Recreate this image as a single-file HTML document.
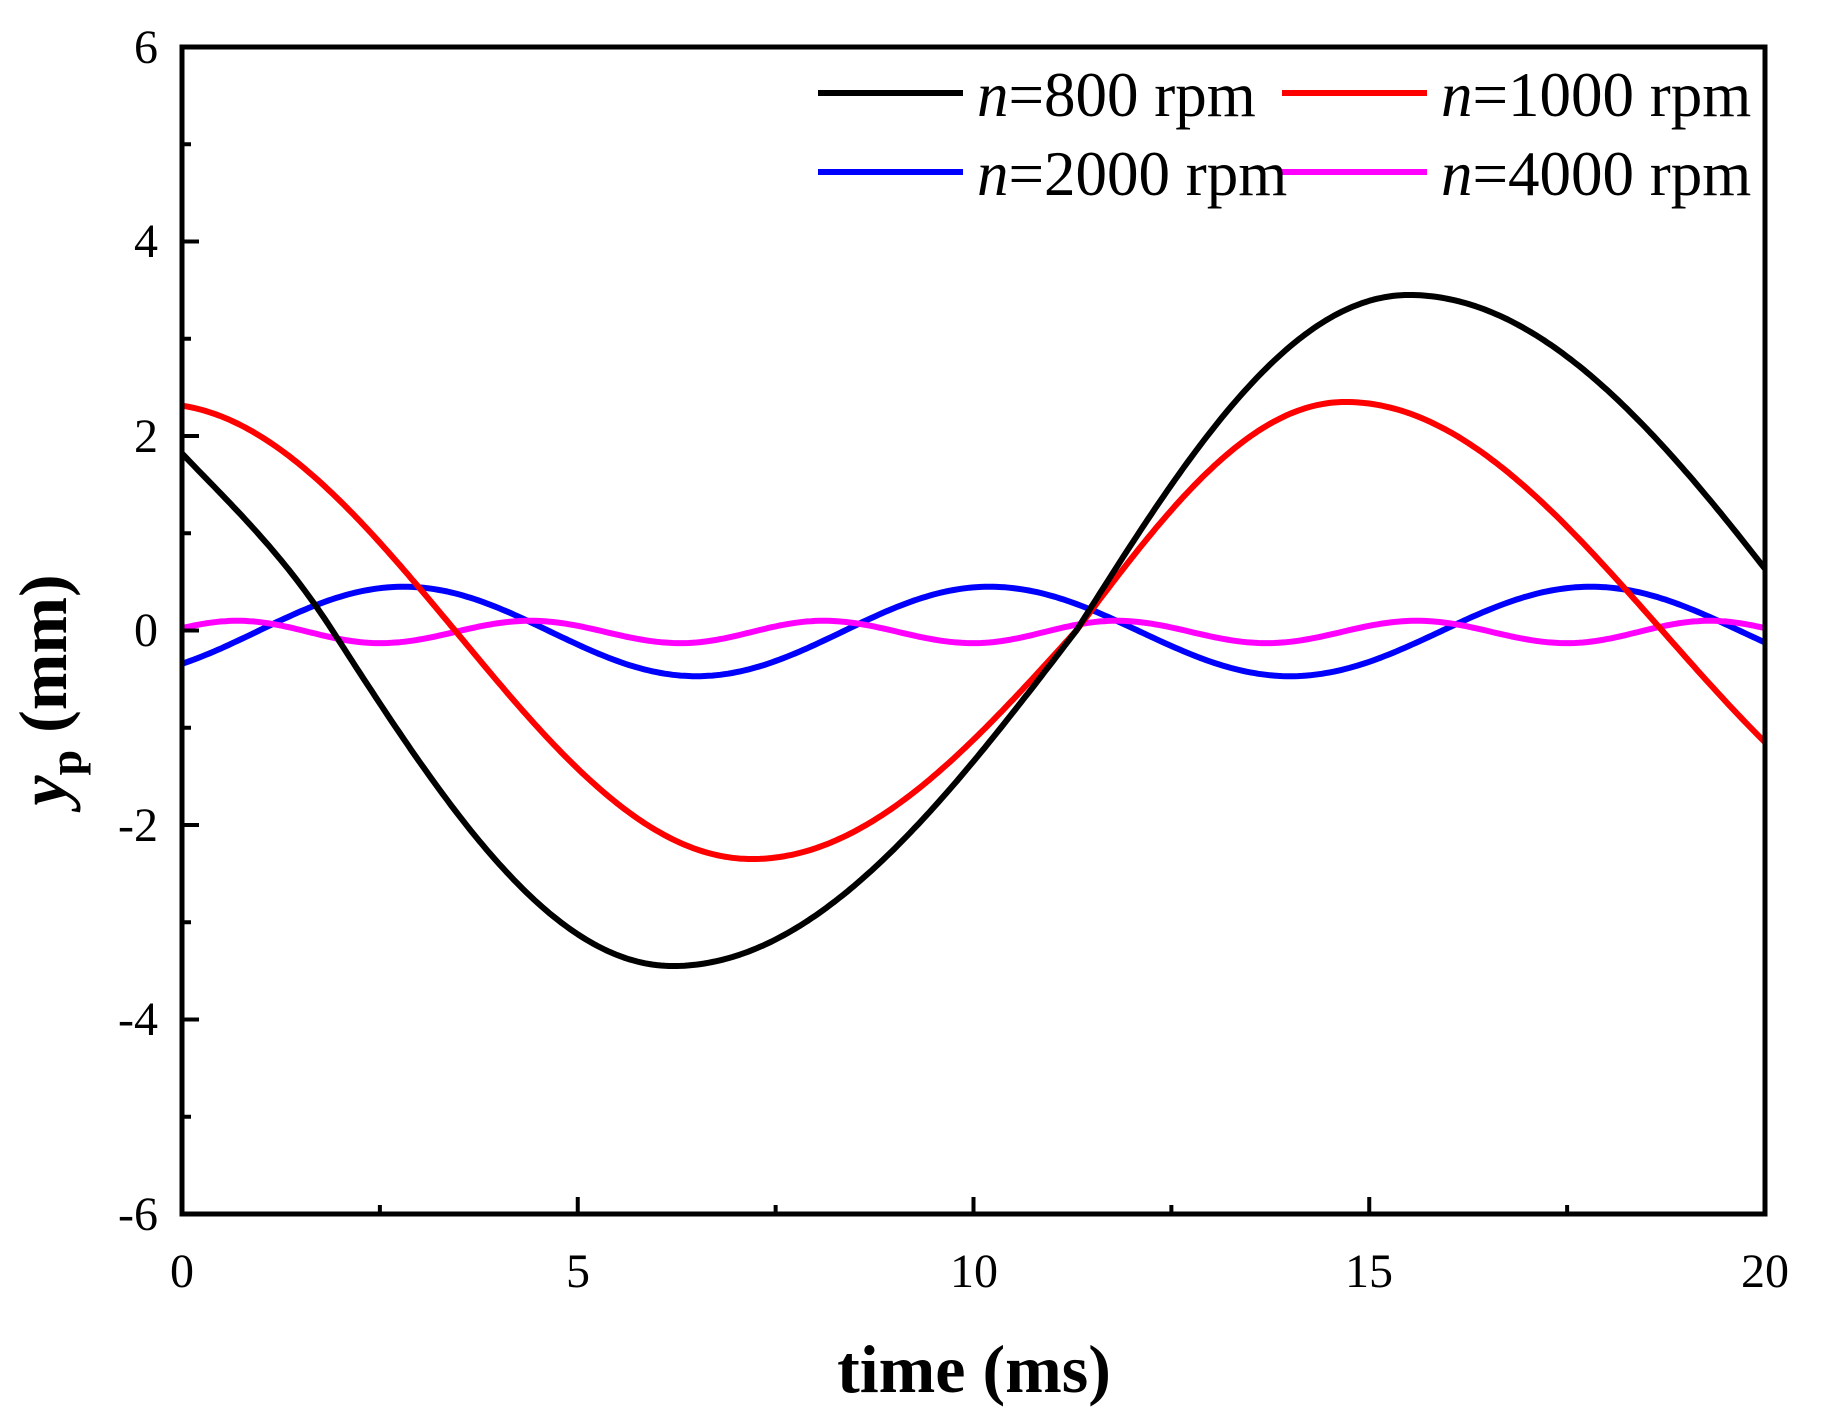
<!DOCTYPE html>
<html><head><meta charset="utf-8"><style>
html,body{margin:0;padding:0;background:#fff;}
svg{display:block;}
text{font-family:"Liberation Serif",serif;fill:#000;}
</style></head><body>
<svg id="s" width="1824" height="1419" viewBox="0 0 1824 1419" xmlns="http://www.w3.org/2000/svg">
<g id="curves" fill="none" stroke-width="6" stroke-linejoin="round"></g>
<rect x="182" y="47" width="1583" height="1167" fill="none" stroke="#000" stroke-width="5"/>
<g id="ticks" stroke="#000" stroke-width="4"></g>
<g font-size="48" text-anchor="end">
<text x="158" y="63">6</text><text x="158" y="257">4</text><text x="158" y="452">2</text>
<text x="158" y="646">0</text><text x="158" y="841">-2</text><text x="158" y="1035">-4</text><text x="158" y="1230">-6</text>
</g>
<g font-size="48" text-anchor="middle">
<text x="182" y="1287">0</text><text x="578" y="1287">5</text><text x="974" y="1287">10</text>
<text x="1369" y="1287">15</text><text x="1765" y="1287">20</text>
</g>
<text x="974" y="1392" font-size="68" font-weight="bold" text-anchor="middle">time (ms)</text>
<text transform="translate(66,690) rotate(-90)" font-size="68" font-weight="bold" text-anchor="middle"><tspan font-style="italic">y</tspan><tspan font-size="46" dy="15">p</tspan><tspan dy="-15"> (mm)</tspan></text>
<g stroke-width="6">
<line x1="818" y1="93" x2="963" y2="93" stroke="#000"/>
<line x1="1282" y1="93" x2="1427" y2="93" stroke="#f00"/>
<line x1="818" y1="172" x2="963" y2="172" stroke="#00f"/>
<line x1="1282" y1="172" x2="1427" y2="172" stroke="#f0f"/>
</g>
<g font-size="63">
<text x="977" y="116"><tspan font-style="italic">n</tspan>=800 rpm</text>
<text x="1441" y="116"><tspan font-style="italic">n</tspan>=1000 rpm</text>
<text x="977" y="195"><tspan font-style="italic">n</tspan>=2000 rpm</text>
<text x="1441" y="195"><tspan font-style="italic">n</tspan>=4000 rpm</text>
</g>
</svg>
<script>
var X=function(t){return 182+t*1583/20;}, Y=function(v){return 630.5-v*97.25;};
function pw(n){
  return function(t){
    for(var i=0;i<n.length-1;i++){
      var a=n[i],b=n[i+1];
      if(t>=a[0]&&t<=b[0]){
        var f=(t-a[0])/(b[0]-a[0]);
        if(a[2]=='e'&&b[2]=='e') return a[1]+(b[1]-a[1])*(1-Math.cos(Math.PI*f))/2;
        if(a[2]=='e'&&b[2]=='z') return b[1]+(a[1]-b[1])*Math.cos(Math.PI/2*f);
        return a[1]+(b[1]-a[1])*Math.sin(Math.PI/2*f);
      }
    }
    return 0;
  };
}
function E(l){return l.map(function(p){return [p[0],p[1],'e'];});}
var blackMain=pw([[-2.8,3.45,'e'],[1.9,0,'z'],[6.2,-3.45,'e'],[11.3,0,'z'],[15.5,3.45,'e'],[25.7,-3.45,'e']]);
function black(t){
  if(t<1.9){
    var h=1.9,f=t/h,p0=1.82,p1=0,m0=-0.85*h,m1=-3.45*(Math.PI/2)/4.3*h;
    var f2=f*f,f3=f2*f;
    return (2*f3-3*f2+1)*p0+(f3-2*f2+f)*m0+(-2*f3+3*f2)*p1+(f3-f2)*m1;
  }
  return blackMain(t);
}
var series=[
 ["#00f",pw(E([[-0.9,-0.47],[2.8,0.45],[6.5,-0.47],[10.2,0.45],[14.0,-0.47],[17.8,0.45],[21.6,-0.47]]))],
 ["#f0f",pw(E([[-1.1,-0.13],[0.7,0.1],[2.5,-0.13],[4.4,0.1],[6.3,-0.13],[8.1,0.1],[10.0,-0.13],[11.8,0.1],[13.7,-0.13],[15.6,0.1],[17.5,-0.13],[19.3,0.1],[21.1,-0.13]]))],
 ["#f00",pw([[-0.3,2.33,'e'],[3.45,0,'z'],[7.2,-2.35,'e'],[11.3,0,'z'],[14.7,2.35,'e'],[22.7,-2.35,'e']])],
 ["#000",black]
];
var g=document.getElementById("curves"),ns="http://www.w3.org/2000/svg";
series.forEach(function(s){
  var d="";
  for(var i=0;i<=400;i++){var t=i*20/400;d+=(i?"L":"M")+X(t).toFixed(1)+" "+Y(s[1](t)).toFixed(1);}
  var p=document.createElementNS(ns,"path");p.setAttribute("d",d);p.setAttribute("stroke",s[0]);g.appendChild(p);
});
var tk=document.getElementById("ticks");
function ln(x1,y1,x2,y2){var l=document.createElementNS(ns,"line");l.setAttribute("x1",x1);l.setAttribute("y1",y1);l.setAttribute("x2",x2);l.setAttribute("y2",y2);tk.appendChild(l);}
for(var v=-6;v<=6;v++){var y=Y(v);ln(182,y,182+(v%2==0?17:9),y);}
for(var k=0;k<=8;k++){var x=X(k*2.5);ln(x,1214,x,1214-(k%2==0?17:9));}
</script>
</body></html>
